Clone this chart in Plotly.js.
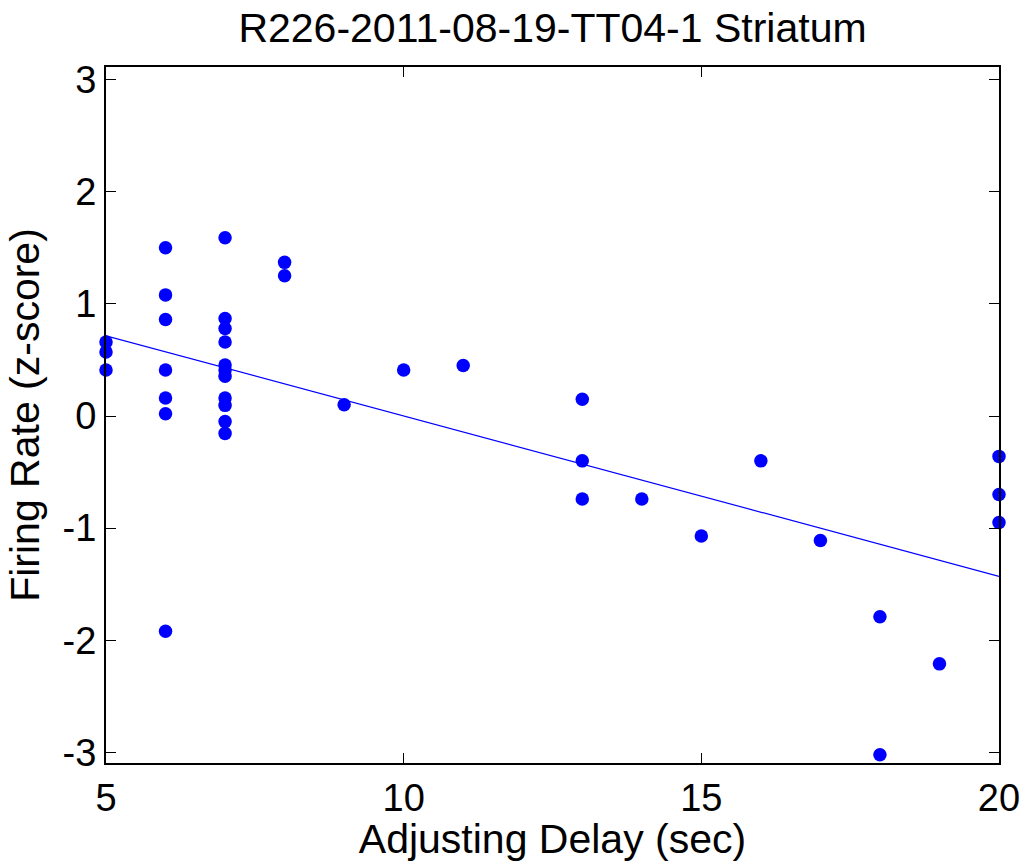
<!DOCTYPE html>
<html>
<head>
<meta charset="utf-8">
<script src="https://cdn.plot.ly/plotly-3.0.1.min.js"></script>
<style>html,body{margin:0;padding:0;background:#fff;}#chart{width:1026px;height:862px;}</style>
</head>
<body>
<div id="chart"></div>
<script>
// Adjusting delay (sec) for each trial
const delaySec = [
  5, 5, 5,
  6, 6, 6, 6, 6, 6, 6,
  7, 7, 7, 7, 7, 7, 7, 7, 7, 7, 7,
  8, 8,
  9, 10, 11,
  13, 13, 13,
  14, 15, 16, 17,
  18, 18,
  19,
  20, 20, 20
];
// Firing rate (z-score) for each trial
const firingZ = [
  0.66, 0.57, 0.41,
  1.50, 1.08, 0.86, 0.41, 0.16, 0.02, -1.92,
  1.59, 0.87, 0.78, 0.66, 0.455, 0.41, 0.355, 0.16, 0.095, -0.05, -0.155,
  1.37, 1.25,
  0.10, 0.41, 0.45,
  0.15, -0.40, -0.74,
  -0.74, -1.07, -0.40, -1.11,
  -1.79, -3.02,
  -2.21,
  -0.36, -0.70, -0.95
];
const xTicks = [5, 10, 15, 20];
const yTicks = [-3, -2, -1, 0, 1, 2, 3];
const fitRangeX = [5, 20];

// least-squares fit computed from the data
function linfit(xs, ys) {
  const n = xs.length;
  let mx = 0, my = 0;
  for (let i = 0; i < n; i++) { mx += xs[i]; my += ys[i]; }
  mx /= n; my /= n;
  let sxy = 0, sxx = 0;
  for (let i = 0; i < n; i++) { sxy += (xs[i]-mx)*(ys[i]-my); sxx += (xs[i]-mx)*(xs[i]-mx); }
  const b = sxy / sxx;
  return {a: my - b*mx, b: b};
}
const fit = linfit(delaySec, firingZ);
const fitY = fitRangeX.map(x => fit.a + fit.b * x);

const FONT = 'Liberation Sans, Arial, sans-serif';

const traces = [
  {
    x: delaySec, y: firingZ, type: 'scatter', mode: 'markers',
    marker: {color: '#0000FF', size: 13.5, line: {width: 0}},
    cliponaxis: false, showlegend: false, hoverinfo: 'x+y'
  },
  {
    x: fitRangeX, y: fitY, type: 'scatter', mode: 'lines',
    line: {color: '#0000FF', width: 1.2}, showlegend: false
  }
];

const axisCommon = {
  showgrid: false, zeroline: false, showline: true, linecolor: '#000', linewidth: 2,
  mirror: 'ticks', ticks: 'inside', ticklen: 10, tickwidth: 1, tickcolor: '#000',
  tickfont: {family: FONT, size: 38, color: '#000'}
};

const layout = {
  width: 1026, height: 862,
  paper_bgcolor: '#fff', plot_bgcolor: '#fff',
  margin: {l: 106, r: 27, t: 67, b: 99, pad: 0},
  title: {text: 'R226-2011-08-19-TT04-1 Striatum', font: {family: FONT, size: 41, color: '#000'},
          x: 0.5385, xanchor: 'center', y: 0.968, yanchor: 'middle'},
  xaxis: Object.assign({}, axisCommon, {
    range: [5, 20], tickvals: xTicks, ticktext: xTicks.map(String),
    title: {text: 'Adjusting Delay (sec)', font: {family: FONT, size: 41, color: '#000'}, standoff: 0}
  }),
  yaxis: Object.assign({}, axisCommon, {
    range: [-3.094, 3.112], tickvals: yTicks, ticktext: yTicks.map(String),
    title: {text: 'Firing Rate (z-score)', font: {family: FONT, size: 41, color: '#000'}, standoff: 10}
  }),
  font: {family: FONT, color: '#000'}
};

Plotly.newPlot('chart', traces, layout, {displayModeBar: false, staticPlot: true});
</script>
</body>
</html>
